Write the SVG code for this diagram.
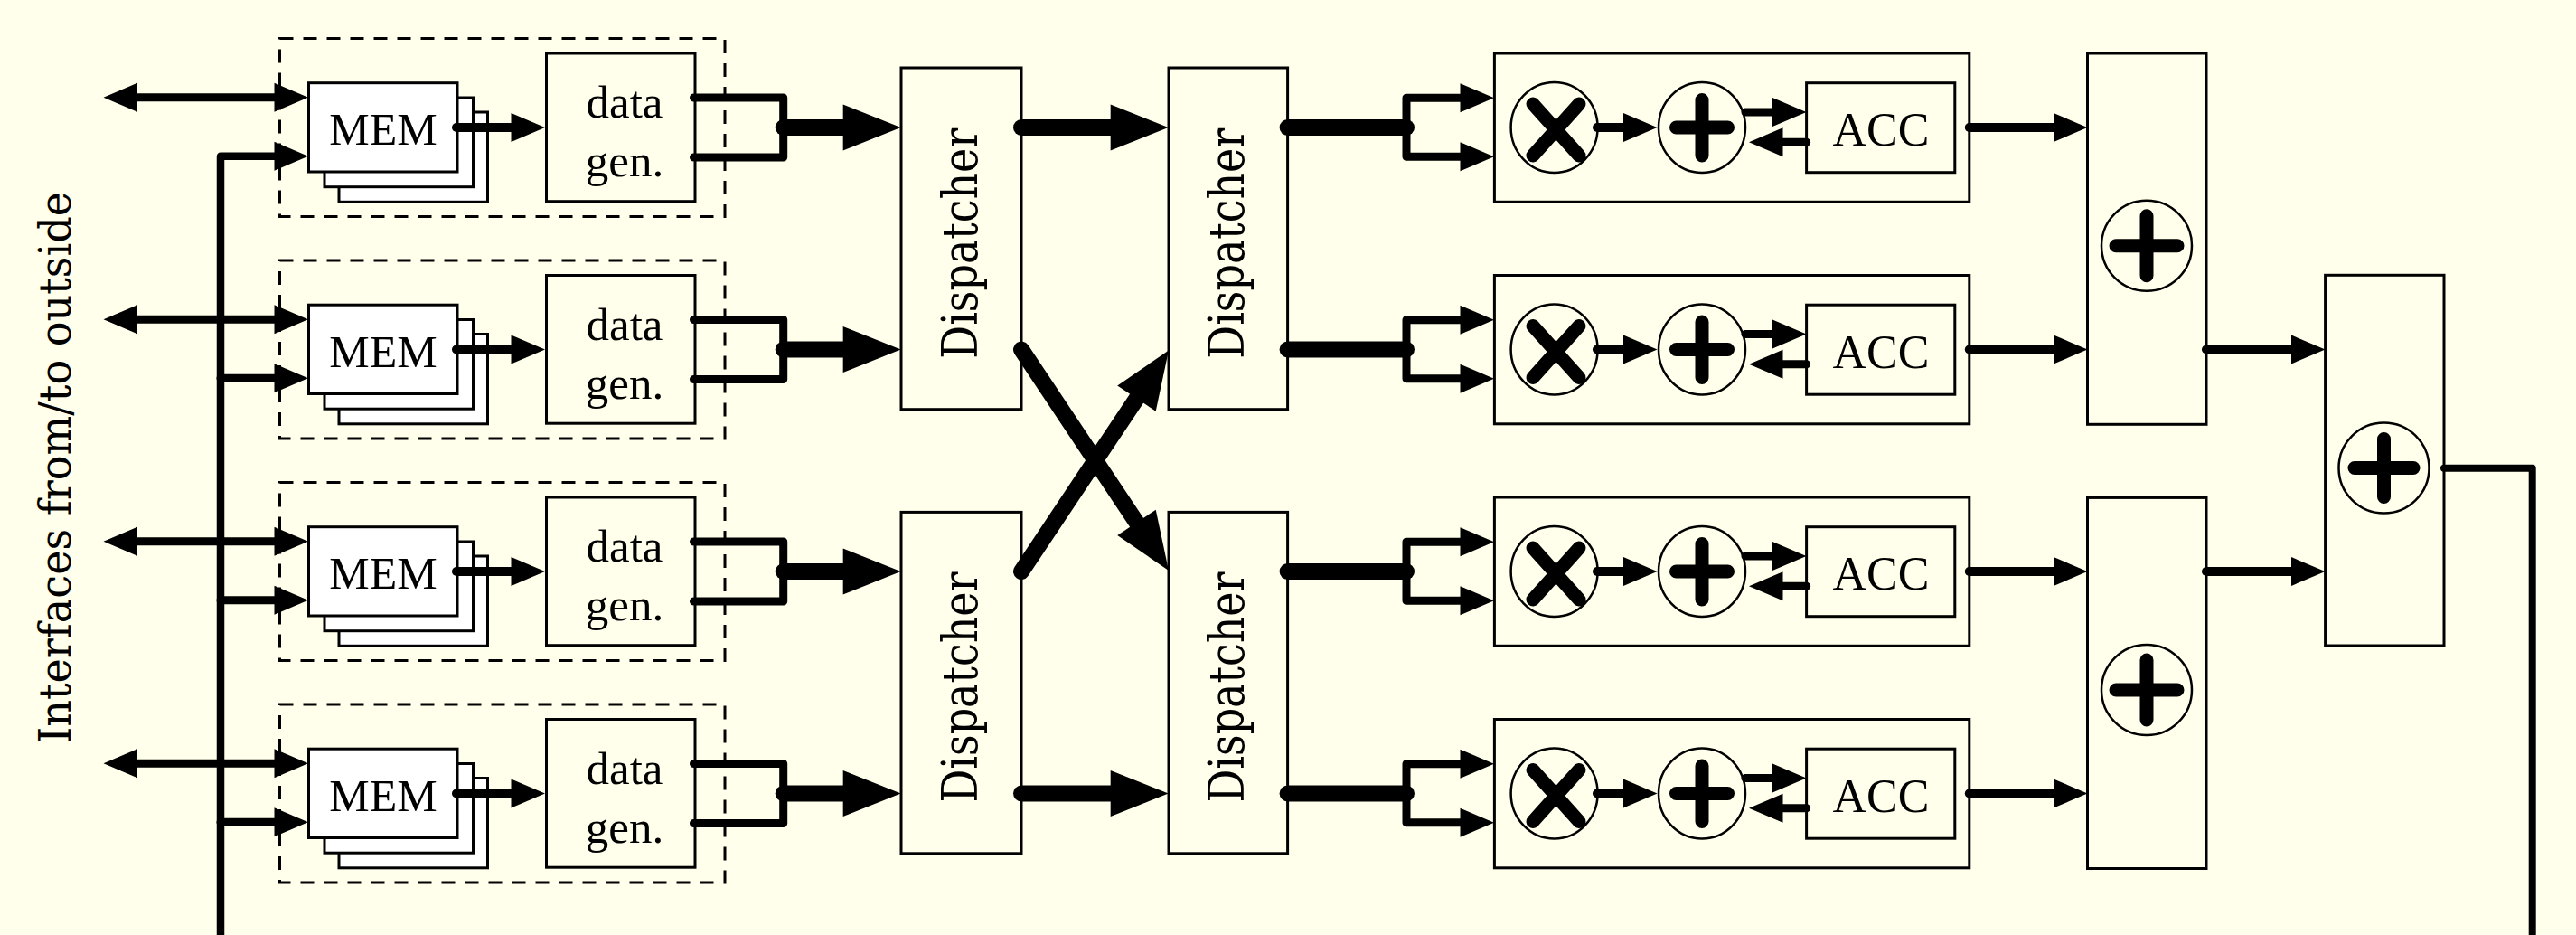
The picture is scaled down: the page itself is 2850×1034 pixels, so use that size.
<svg xmlns="http://www.w3.org/2000/svg" width="2850" height="1034" viewBox="0 0 2850 1034">
<style>
.bx{fill:#FFFFEB;stroke:#000;stroke-width:3}
.mem{fill:#FFFFFF;stroke:#000;stroke-width:3}
.dash{fill:none;stroke:#000;stroke-width:3;stroke-dasharray:15 11}
.circ{fill:#FFFFEB;stroke:#000;stroke-width:2.5}
.sym{fill:none;stroke:#000;stroke-width:15;stroke-linecap:round}
.c{fill:none;stroke:#000;stroke-linecap:round;stroke-linejoin:round}
.t9{stroke-width:9}
.t10{stroke-width:10}
.t18{stroke-width:18}
.a{marker-end:url(#ah)}
.ab{marker-end:url(#ahb)}
.tm{font-family:"Liberation Serif","Times New Roman",serif;fill:#000;text-anchor:middle}
.td{font-family:"DejaVu Serif",serif;fill:#000;text-anchor:middle}
</style>
<defs>
<marker id="ah" markerUnits="userSpaceOnUse" markerWidth="40" markerHeight="34" refX="0" refY="16" orient="auto" overflow="visible"><path d="M0,0 L37.5,16 L0,32 z" fill="#000"/></marker>
<marker id="ahr" markerUnits="userSpaceOnUse" markerWidth="40" markerHeight="34" refX="0" refY="16" orient="auto-start-reverse" overflow="visible"><path d="M0,0 L37.5,16 L0,32 z" fill="#000"/></marker>
<marker id="ahb" markerUnits="userSpaceOnUse" markerWidth="66" markerHeight="52" refX="0" refY="25.5" orient="auto" overflow="visible"><path d="M0,0 L64,25.5 L0,51 z" fill="#000"/></marker>
</defs>
<rect x="0" y="0" width="2850" height="1034" fill="#FFFFEB"/>

<g id="label-interfaces">
<text class="td" font-size="48" textLength="610" lengthAdjust="spacingAndGlyphs" transform="translate(78.3,517) rotate(-90)">Interfaces from/to outside</text>
</g>

<!-- Row tiles: MEM + data gen -->
<g id="tile-1">
<rect class="dash" x="309.5" y="42.5" width="492.5" height="197"/>
<g id="mem-1"><rect class="mem" x="375" y="124" width="164.5" height="99.3"/><rect class="mem" x="359" y="108" width="164.5" height="98.7"/><rect class="mem" x="341.5" y="91.7" width="164.5" height="98.3"/><text class="tm" x="424" y="160" font-size="50">MEM</text></g>
<g id="datagen-1"><rect class="bx" x="604.5" y="59" width="164.5" height="163.7"/><text class="tm" x="691" y="130" font-size="51">data</text><text class="tm" x="691" y="195" font-size="51">gen.</text></g>
</g>
<g id="tile-2">
<rect class="dash" x="309.5" y="288" width="492.5" height="197"/>
<g id="mem-2"><rect class="mem" x="375" y="369.5" width="164.5" height="99.3"/><rect class="mem" x="359" y="353.5" width="164.5" height="98.7"/><rect class="mem" x="341.5" y="337.2" width="164.5" height="98.3"/><text class="tm" x="424" y="405.5" font-size="50">MEM</text></g>
<g id="datagen-2"><rect class="bx" x="604.5" y="304.5" width="164.5" height="163.7"/><text class="tm" x="691" y="375.5" font-size="51">data</text><text class="tm" x="691" y="440.5" font-size="51">gen.</text></g>
</g>
<g id="tile-3">
<rect class="dash" x="309.5" y="533.5" width="492.5" height="197"/>
<g id="mem-3"><rect class="mem" x="375" y="615" width="164.5" height="99.3"/><rect class="mem" x="359" y="599" width="164.5" height="98.7"/><rect class="mem" x="341.5" y="582.7" width="164.5" height="98.3"/><text class="tm" x="424" y="651" font-size="50">MEM</text></g>
<g id="datagen-3"><rect class="bx" x="604.5" y="550" width="164.5" height="163.7"/><text class="tm" x="691" y="621" font-size="51">data</text><text class="tm" x="691" y="686" font-size="51">gen.</text></g>
</g>
<g id="tile-4">
<rect class="dash" x="309.5" y="779" width="492.5" height="197"/>
<g id="mem-4"><rect class="mem" x="375" y="860.5" width="164.5" height="99.3"/><rect class="mem" x="359" y="844.5" width="164.5" height="98.7"/><rect class="mem" x="341.5" y="828.2" width="164.5" height="98.3"/><text class="tm" x="424" y="896.5" font-size="50">MEM</text></g>
<g id="datagen-4"><rect class="bx" x="604.5" y="795.5" width="164.5" height="163.7"/><text class="tm" x="691" y="866.5" font-size="51">data</text><text class="tm" x="691" y="931.5" font-size="51">gen.</text></g>
</g>

<!-- Dispatchers -->
<g id="dispatcher-1"><rect class="bx" x="997" y="75" width="133" height="377.7"/><text class="td" font-size="54" textLength="255" lengthAdjust="spacingAndGlyphs" transform="translate(1080.8,269.2) rotate(-90)">Dispatcher</text></g>
<g id="dispatcher-2"><rect class="bx" x="1293" y="75" width="131.6" height="377.7"/><text class="td" font-size="54" textLength="255" lengthAdjust="spacingAndGlyphs" transform="translate(1376.4,269.2) rotate(-90)">Dispatcher</text></g>
<g id="dispatcher-3"><rect class="bx" x="997" y="566.4" width="133" height="377.4"/><text class="td" font-size="54" textLength="255" lengthAdjust="spacingAndGlyphs" transform="translate(1080.8,760) rotate(-90)">Dispatcher</text></g>
<g id="dispatcher-4"><rect class="bx" x="1293" y="566.4" width="131.6" height="377.4"/><text class="td" font-size="54" textLength="255" lengthAdjust="spacingAndGlyphs" transform="translate(1376.4,760) rotate(-90)">Dispatcher</text></g>

<!-- Processing elements -->
<g id="pe-1">
<rect class="bx" x="1653.4" y="59" width="525.4" height="164.3"/>
<g id="mul-1"><ellipse class="circ" cx="1719.6" cy="141" rx="48" ry="50"/><path class="sym" d="M1696,115 L1747,172 M1747,115 L1696,172"/></g>
<g id="add-1"><ellipse class="circ" cx="1883" cy="141" rx="48" ry="50"/><path class="sym" d="M1854.5,141 L1911.5,141 M1883,110.5 L1883,172"/></g>
<g id="acc-1"><rect class="bx" x="1998.6" y="91.7" width="164.2" height="99"/><text class="tm" x="2081" y="161" font-size="52">ACC</text></g>
</g>
<g id="pe-2">
<rect class="bx" x="1653.4" y="304.5" width="525.4" height="164.3"/>
<g id="mul-2"><ellipse class="circ" cx="1719.6" cy="386.5" rx="48" ry="50"/><path class="sym" d="M1696,360.5 L1747,417.5 M1747,360.5 L1696,417.5"/></g>
<g id="add-2"><ellipse class="circ" cx="1883" cy="386.5" rx="48" ry="50"/><path class="sym" d="M1854.5,386.5 L1911.5,386.5 M1883,356 L1883,417.5"/></g>
<g id="acc-2"><rect class="bx" x="1998.6" y="337.2" width="164.2" height="99"/><text class="tm" x="2081" y="406.5" font-size="52">ACC</text></g>
</g>
<g id="pe-3">
<rect class="bx" x="1653.4" y="550" width="525.4" height="164.3"/>
<g id="mul-3"><ellipse class="circ" cx="1719.6" cy="632" rx="48" ry="50"/><path class="sym" d="M1696,606 L1747,663 M1747,606 L1696,663"/></g>
<g id="add-3"><ellipse class="circ" cx="1883" cy="632" rx="48" ry="50"/><path class="sym" d="M1854.5,632 L1911.5,632 M1883,601.5 L1883,663"/></g>
<g id="acc-3"><rect class="bx" x="1998.6" y="582.7" width="164.2" height="99"/><text class="tm" x="2081" y="652" font-size="52">ACC</text></g>
</g>
<g id="pe-4">
<rect class="bx" x="1653.4" y="795.5" width="525.4" height="164.3"/>
<g id="mul-4"><ellipse class="circ" cx="1719.6" cy="877.5" rx="48" ry="50"/><path class="sym" d="M1696,851.5 L1747,908.5 M1747,851.5 L1696,908.5"/></g>
<g id="add-4"><ellipse class="circ" cx="1883" cy="877.5" rx="48" ry="50"/><path class="sym" d="M1854.5,877.5 L1911.5,877.5 M1883,847 L1883,908.5"/></g>
<g id="acc-4"><rect class="bx" x="1998.6" y="828.2" width="164.2" height="99"/><text class="tm" x="2081" y="897.5" font-size="52">ACC</text></g>
</g>

<!-- Adder tree -->
<g id="sum-top"><rect class="bx" x="2309.5" y="59" width="131.5" height="410.3"/><ellipse class="circ" cx="2375" cy="271.7" rx="50" ry="50"/><path class="sym" d="M2341,271.7 L2409,271.7 M2375,238.7 L2375,304.7"/></g>
<g id="sum-bottom"><rect class="bx" x="2309.5" y="550.4" width="131.5" height="410.1"/><ellipse class="circ" cx="2375" cy="763" rx="50" ry="50"/><path class="sym" d="M2341,763 L2409,763 M2375,730 L2375,796"/></g>
<g id="sum-final"><rect class="bx" x="2572.6" y="304.3" width="131.4" height="409.7"/><ellipse class="circ" cx="2637.5" cy="517.5" rx="50" ry="50"/><path class="sym" d="M2605,517.5 L2670,517.5 M2637.5,485.5 L2637.5,549.5"/></g>

<g id="connectors">
<!-- bus and feedback -->
<path class="c a" stroke-width="8.5" d="M244,1040 L244,172.7 L303.5,172.7"/>
<path class="c" stroke-width="8" d="M2704,517.7 L2801.7,517.7 L2801.7,1040"/>
<!-- outside bidirectional links -->
<path class="c t9 a" marker-start="url(#ahr)" d="M152,107.7 L303.5,107.7"/>
<path class="c t9 a" marker-start="url(#ahr)" d="M152,353.2 L303.5,353.2"/>
<path class="c t9 a" marker-start="url(#ahr)" d="M152,598.7 L303.5,598.7"/>
<path class="c t9 a" marker-start="url(#ahr)" d="M152,844.2 L303.5,844.2"/>
<path class="c t9 a" d="M244,418.2 L303.5,418.2"/>
<path class="c t9 a" d="M244,663.7 L303.5,663.7"/>
<path class="c t9 a" d="M244,909.2 L303.5,909.2"/>
<!-- MEM to data gen -->
<path class="c t10 a" d="M505,141 L565.5,141"/>
<path class="c t10 a" d="M505,386.5 L565.5,386.5"/>
<path class="c t10 a" d="M505,632 L565.5,632"/>
<path class="c t10 a" d="M505,877.5 L565.5,877.5"/>
<!-- data gen outputs -->
<path class="c t9" d="M767.5,108 L866.7,108 L866.7,174 L767.5,174"/>
<path class="c t9" d="M767.5,353.5 L866.7,353.5 L866.7,419.5 L767.5,419.5"/>
<path class="c t9" d="M767.5,599 L866.7,599 L866.7,665 L767.5,665"/>
<path class="c t9" d="M767.5,844.5 L866.7,844.5 L866.7,910.5 L767.5,910.5"/>
<path class="c t18 ab" d="M866.7,141 L932.7,141"/>
<path class="c t18 ab" d="M866.7,386.5 L932.7,386.5"/>
<path class="c t18 ab" d="M866.7,632 L932.7,632"/>
<path class="c t18 ab" d="M866.7,877.5 L932.7,877.5"/>
<!-- dispatcher stage -->
<path class="c t18 ab" d="M1130,141 L1228.7,141"/>
<path class="c t18 ab" d="M1130,877.5 L1228.7,877.5"/>
<path class="c t18 ab" d="M1130,386.5 L1257.5,577.8"/>
<path class="c t18 ab" d="M1130,632 L1257.5,440.7"/>
<!-- dispatcher outputs to PEs -->
<path class="c t18" d="M1424.6,141 L1556,141"/>
<path class="c t18" d="M1424.6,386.5 L1556,386.5"/>
<path class="c t18" d="M1424.6,632 L1556,632"/>
<path class="c t18" d="M1424.6,877.5 L1556,877.5"/>
<path class="c t9 a" d="M1556,141 L1556,108.3 L1615.5,108.3"/>
<path class="c t9 a" d="M1556,141 L1556,173.3 L1615.5,173.3"/>
<path class="c t9 a" d="M1556,386.5 L1556,353.8 L1615.5,353.8"/>
<path class="c t9 a" d="M1556,386.5 L1556,418.8 L1615.5,418.8"/>
<path class="c t9 a" d="M1556,632 L1556,599.3 L1615.5,599.3"/>
<path class="c t9 a" d="M1556,632 L1556,664.3 L1615.5,664.3"/>
<path class="c t9 a" d="M1556,877.5 L1556,844.8 L1615.5,844.8"/>
<path class="c t9 a" d="M1556,877.5 L1556,909.8 L1615.5,909.8"/>
<!-- inside PEs -->
<path class="c t10 a" d="M1767,141 L1796,141"/>
<path class="c t10 a" d="M1767,386.5 L1796,386.5"/>
<path class="c t10 a" d="M1767,632 L1796,632"/>
<path class="c t10 a" d="M1767,877.5 L1796,877.5"/>
<path class="c t9 a" d="M1931,124 L1961,124"/>
<path class="c t9 a" d="M1931,369.5 L1961,369.5"/>
<path class="c t9 a" d="M1931,615 L1961,615"/>
<path class="c t9 a" d="M1931,860.5 L1961,860.5"/>
<path class="c t9 a" d="M1998.6,157.3 L1972.5,157.3"/>
<path class="c t9 a" d="M1998.6,402.8 L1972.5,402.8"/>
<path class="c t9 a" d="M1998.6,648.3 L1972.5,648.3"/>
<path class="c t9 a" d="M1998.6,893.8 L1972.5,893.8"/>
<!-- PEs to adder tree -->
<path class="c t10 a" d="M2178.8,141 L2272,141"/>
<path class="c t10 a" d="M2178.8,386.5 L2272,386.5"/>
<path class="c t10 a" d="M2178.8,632 L2272,632"/>
<path class="c t10 a" d="M2178.8,877.5 L2272,877.5"/>
<path class="c t10 a" d="M2441,386.5 L2535,386.5"/>
<path class="c t10 a" d="M2441,632 L2535,632"/>
</g>
</svg>
